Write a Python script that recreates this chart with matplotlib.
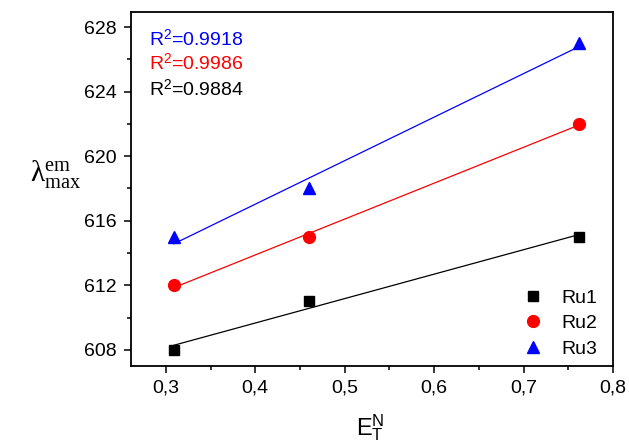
import numpy as np
import matplotlib
matplotlib.use("Agg")
import matplotlib.pyplot as plt
from matplotlib.ticker import FuncFormatter, MultipleLocator

plt.rcParams['font.family'] = ['Liberation Sans', 'DejaVu Sans']
plt.rcParams['mathtext.fontset'] = 'custom'
plt.rcParams['mathtext.rm'] = 'Liberation Serif'
plt.rcParams['mathtext.sf'] = 'Liberation Sans'
plt.rcParams['mathtext.it'] = 'Liberation Serif:italic'

et = [0.309, 0.46, 0.762]
ru1 = [608, 611, 615]
ru2 = [612, 615, 622]
ru3 = [615, 618, 627]
labels = ['Ru1', 'Ru2', 'Ru3']
r2_texts = ['0.9884', '0.9986', '0.9918']
colors = ['black', 'red', 'blue']
markers = ['s', 'o', '^']
msizes = [7, 8.5, 9]

fig = plt.figure(figsize=(6.29, 4.45), dpi=100)
ax = fig.add_axes([131/629, 1-366/445, (613-131)/629, (366-12)/445])

x = np.array(et)
for y, lab, c, m, ms in zip([ru1, ru2, ru3], labels, colors, markers, msizes):
    ax.plot(et, y, linestyle='none', marker=m, color=c, markersize=ms, label=lab)
    p = np.polyfit(x, np.array(y), 1)
    ax.plot([x.min(), x.max()], np.polyval(p, [x.min(), x.max()]), color=c, lw=0.9)

ax.set_xlim(0.261, 0.8)
ax.set_ylim(607.0, 628.93)
ax.xaxis.set_major_locator(MultipleLocator(0.1))
ax.xaxis.set_minor_locator(MultipleLocator(0.05))
ax.yaxis.set_major_locator(MultipleLocator(4))
ax.yaxis.set_minor_locator(MultipleLocator(2))
ax.xaxis.set_major_formatter(FuncFormatter(lambda v, p: f"{v:.1f}".replace('.', ',')))
ax.yaxis.set_major_formatter(FuncFormatter(lambda v, p: f"{v:.0f}"))
ax.tick_params(which='both', direction='out', top=False, right=False, labelsize=14)
ax.tick_params(which='major', length=5, width=1.1, pad=5)
ax.tick_params(which='minor', length=3, width=1.1)
for s in ax.spines.values():
    s.set_linewidth(1.3)

ys = [0.921, 0.854, 0.782]
for yy, t, c in zip(ys, r2_texts[::-1], colors[::-1]):
    ax.text(0.037, yy, r"R$^{\mathsf{2}}$=" + t, transform=ax.transAxes,
            color=c, fontsize=14, va='center', ha='left')

leg = ax.legend(loc='lower right', frameon=False, fontsize=14, handletextpad=0.8,
                borderaxespad=0.4, labelspacing=0.4, handlelength=1.3,
                bbox_to_anchor=(1.0, -0.02))

fig.text(30/629, 1-175/445, r"$\mathrm{\lambda}_{\mathrm{max}}^{\mathrm{em}}$", fontsize=21,
         ha='left', va='center')
fig.text(370/629, 1-428/445, r"$\mathsf{E}_{\mathsf{T}}^{\mathsf{N}}$", fontsize=17,
         ha='center', va='center')

fig.savefig('out.png', dpi=100)
